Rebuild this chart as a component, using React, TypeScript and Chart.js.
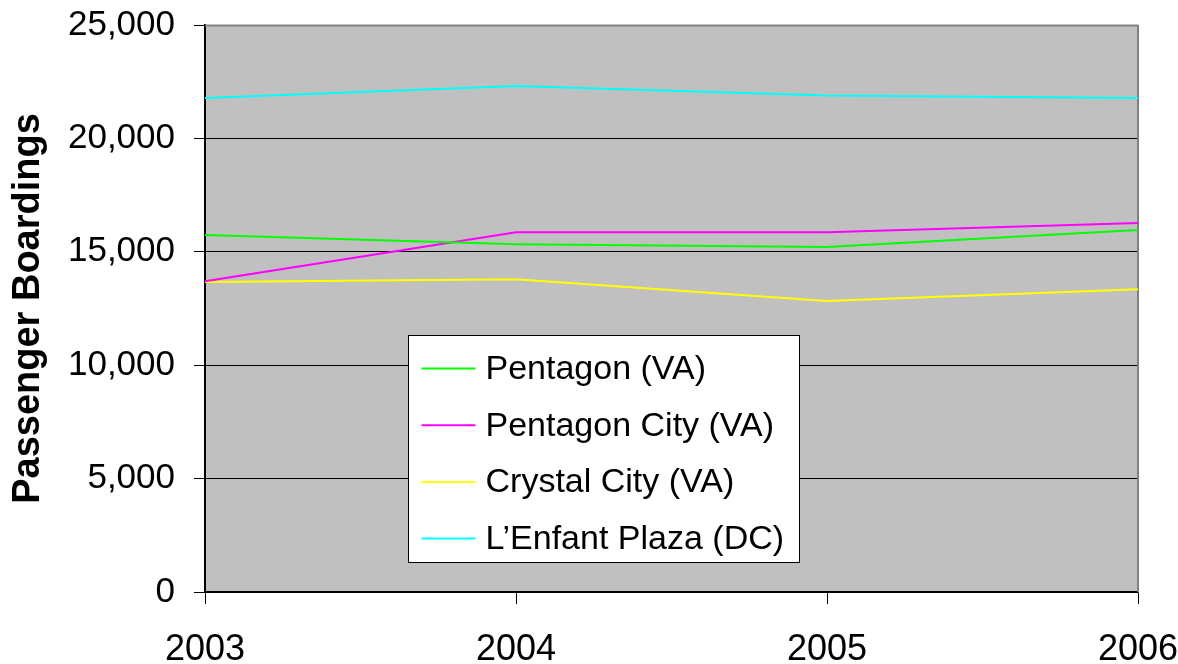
import React, { useEffect, useRef } from 'react';
import { Chart, registerables } from 'chart.js';

Chart.register(...registerables);

const years = ['2003', '2004', '2005', '2006'];
const pentagon = [15740, 15330, 15210, 15960];
const pentagonCity = [13700, 15860, 15860, 16270];
const crystalCity = [13670, 13790, 12830, 13350];
const lenfantPlaza = [21780, 22310, 21890, 21780];
const seriesNames = ['Pentagon (VA)', 'Pentagon City (VA)', 'Crystal City (VA)', 'L\u2019Enfant Plaza (DC)'];
const seriesColors = ['#00FF00', '#FF00FF', '#FFFF00', '#00FFFF'];
const yTickValues = [0, 5000, 10000, 15000, 20000, 25000];
const yTitle = 'Passenger Boardings';

const FONT = "'Liberation Sans', Arial, Helvetica, sans-serif";

const plotBackground = {
  id: 'plotBackground',
  beforeDraw(chart: any) {
    const { ctx, chartArea: ca } = chart;
    ctx.save();
    ctx.fillStyle = '#C0C0C0';
    ctx.fillRect(ca.left, ca.top, ca.right - ca.left, ca.bottom - ca.top);
    ctx.restore();
  },
  beforeDatasetsDraw(chart: any) {
    const { ctx, chartArea: ca } = chart;
    ctx.save();
    ctx.strokeStyle = '#808080';
    ctx.lineWidth = 2;
    ctx.beginPath();
    ctx.moveTo(ca.left, ca.top + 0.5);
    ctx.lineTo(ca.right, ca.top + 0.5);
    ctx.moveTo(ca.right, ca.top);
    ctx.lineTo(ca.right, ca.bottom);
    ctx.stroke();
    ctx.restore();
  },
};

const legendBox = {
  id: 'legendBox',
  afterDatasetsDraw(chart: any) {
    const { ctx, chartArea: ca } = chart;
    const w = ca.right - ca.left;
    const h = ca.bottom - ca.top;
    const x0 = Math.round(ca.left + w * 0.2176) + 0.5;
    const y0 = Math.round(ca.top + h * 0.547) + 0.5;
    const bw = Math.round(w * 0.419);
    const bh = Math.round(h * 0.4);
    ctx.save();
    ctx.fillStyle = '#FFFFFF';
    ctx.fillRect(x0, y0, bw, bh);
    ctx.strokeStyle = '#000000';
    ctx.lineWidth = 1;
    ctx.strokeRect(x0, y0, bw, bh);
    ctx.font = `34px ${FONT}`;
    ctx.textBaseline = 'middle';
    ctx.textAlign = 'left';
    chart.data.datasets.forEach((ds: any, i: number) => {
      const y = y0 + 33 + i * 56.7;
      ctx.strokeStyle = ds.borderColor;
      ctx.lineWidth = 2;
      ctx.beginPath();
      ctx.moveTo(x0 + 13, y);
      ctx.lineTo(x0 + 67, y);
      ctx.stroke();
      ctx.fillStyle = '#000000';
      ctx.fillText(ds.label, x0 + 77, y + 1);
    });
    ctx.restore();
  },
};

export default function App() {
  const canvasRef = useRef<HTMLCanvasElement | null>(null);

  useEffect(() => {
    document.body.style.margin = '0';
    const canvas = canvasRef.current;
    if (!canvas) return;
    const seriesData = [pentagon, pentagonCity, crystalCity, lenfantPlaza];
    const chart = new Chart(canvas, {
      type: 'line',
      data: {
        labels: years,
        datasets: seriesData.map((d, i) => ({
          label: seriesNames[i],
          data: d,
          borderColor: seriesColors[i],
          backgroundColor: seriesColors[i],
          borderWidth: 2,
          pointRadius: 0,
          pointHoverRadius: 0,
          tension: 0,
          fill: false,
        })),
      },
      options: {
        responsive: true,
        maintainAspectRatio: false,
        animation: false,
        devicePixelRatio: 1,
        layout: { padding: { top: 25, right: 40, left: 0, bottom: 0 } },
        plugins: {
          legend: { display: false },
          tooltip: { enabled: false },
        },
        scales: {
          x: {
            type: 'category',
            offset: false,
            grid: {
              display: true,
              drawOnChartArea: false,
              drawTicks: true,
              tickLength: 12,
              color: '#000000',
              lineWidth: 1,
            },
            border: { display: true, color: '#000000', width: 1.5 },
            ticks: {
              color: '#000000',
              font: { family: FONT, size: 36 },
              padding: 24,
              maxRotation: 0,
              autoSkip: false,
            },
            afterFit(scale: any) {
              scale.height = 72;
              scale.paddingLeft = 0;
              scale.paddingRight = 0;
            },
          },
          y: {
            type: 'linear',
            min: 0,
            max: 25000,
            afterBuildTicks(scale: any) {
              scale.ticks = yTickValues.map((v) => ({ value: v }));
            },
            grid: {
              display: true,
              drawOnChartArea: true,
              drawTicks: true,
              tickLength: 11,
              color: '#000000',
              lineWidth: 1,
            },
            border: { display: true, color: '#000000', width: 2 },
            ticks: {
              color: '#000000',
              font: { family: FONT, size: 35 },
              padding: 19,
              callback: (v: any) => Number(v).toLocaleString('en-US'),
            },
            title: {
              display: true,
              text: yTitle,
              color: '#000000',
              font: { family: FONT, size: 38, weight: 'bold' },
              padding: { top: 6, bottom: 0 },
            },
            afterFit(scale: any) {
              scale.width = 205;
              scale.paddingTop = 0;
              scale.paddingBottom = 0;
            },
          },
        },
      },
      plugins: [plotBackground, legendBox],
    } as any);
    return () => chart.destroy();
  }, []);

  return (
    <div style={{ width: 1178, height: 664, position: 'relative' }}>
      <canvas ref={canvasRef} style={{ display: 'block' }} />
    </div>
  );
}
